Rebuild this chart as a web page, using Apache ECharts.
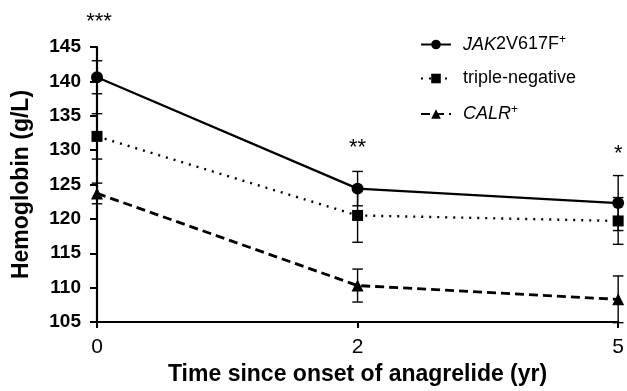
<!DOCTYPE html>
<html>
<head>
<meta charset="utf-8">
<script src="https://cdn.jsdelivr.net/npm/echarts@6/dist/echarts.min.js"></script>
<style>
html,body{margin:0;padding:0;background:#fff;}
#chart{width:627px;height:391px;}
</style>
</head>
<body>
<div id="chart"></div>
<script>
// ---- data ----
var categories = ['0', '2', '5'];
var seriesNames = ['JAK2V617F+', 'triple-negative', 'CALR+'];
var jakMean = [140.6, 124.4, 122.3];
var jakErr  = [2.4, 2.5, 4.0];
var tnMean  = [132.0, 120.5, 119.7];
var tnErr   = [3.3, 3.9, 3.4];
var calrMean = [123.7, 110.3, 108.3];
var calrErr  = [1.5, 2.4, 3.4];
var sigLabels = ['***', '**', '*'];
var sigY = [148.6, 130.3, 129.4];
var yTicks = {min: 105, max: 145, interval: 5};

var FONT = '"Liberation Sans", Arial, sans-serif';

function errData(mean, err) {
  return mean.map(function (m, i) { return [i, m, err[i]]; });
}

function errSeries(mean, err) {
  return {
    type: 'custom',
    clip: false,
    silent: true,
    z: 3,
    data: errData(mean, err),
    renderItem: function (params, api) {
      var x = api.value(0), m = api.value(1), e = api.value(2);
      var top = api.coord([x, m + e]);
      var bot = api.coord([x, m - e]);
      var hw = 5.3;
      var st = {stroke: '#000', lineWidth: 1.4};
      return {
        type: 'group',
        children: [
          {type: 'line', shape: {x1: top[0], y1: top[1], x2: bot[0], y2: bot[1]}, style: st},
          {type: 'line', shape: {x1: top[0] - hw, y1: top[1], x2: top[0] + hw, y2: top[1]}, style: st},
          {type: 'line', shape: {x1: bot[0] - hw, y1: bot[1], x2: bot[0] + hw, y2: bot[1]}, style: st}
        ]
      };
    }
  };
}

var chart = echarts.init(document.getElementById('chart'), null, {renderer: 'canvas'});

var option = {
  animation: false,
  backgroundColor: '#fff',
  textStyle: {fontFamily: FONT},
  grid: {left: 97, right: 8, top: 47, height: 275, containLabel: false},
  legend: {
    orient: 'vertical',
    left: 415,
    top: 29,
    itemWidth: 30,
    itemHeight: 12,
    itemGap: 16,
    data: seriesNames,
    textStyle: {
      fontFamily: FONT, fontSize: 18, color: '#000', padding: [0, 0, 0, 7],
      rich: {
        i: {fontFamily: FONT, fontSize: 18, fontStyle: 'italic', color: '#000'},
        n: {fontFamily: FONT, fontSize: 18, color: '#000'},
        sup: {fontFamily: FONT, fontSize: 12, color: '#000', padding: [0, 0, 9, 0]}
      }
    },
    formatter: function (name) {
      if (name === 'JAK2V617F+') return '{i|JAK}{n|2V617F}{sup|+}';
      if (name === 'CALR+') return '{i|CALR}{sup|+}';
      return '{n|' + name + '}';
    }
  },
  xAxis: {
    type: 'category',
    data: categories,
    boundaryGap: false,
    axisLine: {lineStyle: {color: '#000', width: 2.2}},
    axisTick: {show: true, alignWithLabel: true, length: 6, lineStyle: {color: '#000', width: 2}},
    axisLabel: {fontFamily: FONT, fontSize: 21, color: '#000', margin: 15},
    name: 'Time since onset of anagrelide (yr)',
    nameLocation: 'middle',
    nameGap: 36,
    nameTextStyle: {fontFamily: FONT, fontSize: 23, fontWeight: 'bold', color: '#000'}
  },
  yAxis: {
    type: 'value',
    min: yTicks.min,
    max: yTicks.max,
    interval: yTicks.interval,
    splitLine: {show: false},
    axisLine: {show: true, lineStyle: {color: '#000', width: 2.2}},
    axisTick: {show: true, length: 7, lineStyle: {color: '#000', width: 2}},
    axisLabel: {fontFamily: FONT, fontSize: 19, fontWeight: 'bold', color: '#000', margin: 16},
    name: 'Hemoglobin (g/L)',
    nameLocation: 'middle',
    nameGap: 64,
    nameTextStyle: {fontFamily: FONT, fontSize: 23, fontWeight: 'bold', color: '#000'}
  },
  series: [
    errSeries(jakMean, jakErr),
    errSeries(tnMean, tnErr),
    errSeries(calrMean, calrErr),
    {
      name: seriesNames[0], type: 'line', data: jakMean, z: 5,
      symbol: 'circle', symbolSize: 12,
      lineStyle: {color: '#000', width: 2.2, type: 'solid'},
      itemStyle: {color: '#000'}
    },
    {
      name: seriesNames[1], type: 'line', data: tnMean, z: 5,
      symbol: 'rect', symbolSize: 11,
      lineStyle: {color: '#000', width: 2.4, type: [2, 6], cap: 'butt'},
      itemStyle: {color: '#000'}
    },
    {
      name: seriesNames[2], type: 'line', data: calrMean, z: 5,
      symbol: 'triangle', symbolSize: 12,
      lineStyle: {color: '#000', width: 2.8, type: [9, 5]},
      itemStyle: {color: '#000'}
    },
    {
      type: 'custom',
      clip: false,
      silent: true,
      z: 6,
      data: sigLabels.map(function (s, i) { return [i, sigY[i], s]; }),
      renderItem: function (params, api) {
        var p = api.coord([api.value(0), api.value(1)]);
        return {
          type: 'text',
          x: p[0] + (params.dataIndex === 0 ? 2 : 0), y: p[1],
          style: {
            text: sigLabels[params.dataIndex],
            font: '22px ' + FONT,
            fill: '#000',
            align: 'center',
            verticalAlign: 'middle'
          }
        };
      }
    }
  ]
};
chart.setOption(option);
</script>
</body>
</html>
